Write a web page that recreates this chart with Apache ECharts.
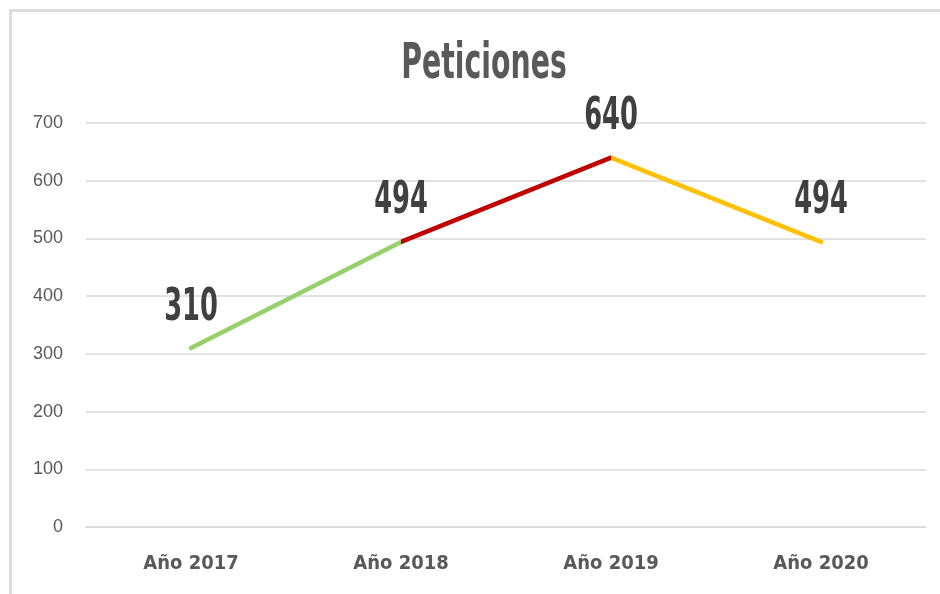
<!DOCTYPE html>
<html><head><meta charset="utf-8">
<script src="https://cdn.jsdelivr.net/npm/echarts@6/dist/echarts.min.js"></script>
<style>
html,body{margin:0;padding:0;background:#fff;}
#frame{position:absolute;left:9px;top:9px;width:931px;height:585px;border-top:3px solid #dcdcdc;border-left:3px solid #dcdcdc;box-sizing:border-box;}
#chart{position:absolute;left:0;top:0;width:940px;height:594px;}
</style></head>
<body>
<div id="frame"></div>
<div id="chart"></div>
<script>
const categories = ['Año 2017', 'Año 2018', 'Año 2019', 'Año 2020'];
const peticiones = [310, 494, 640, 494];
const yTicks = [0, 100, 200, 300, 400, 500, 600, 700];
const segmentColors = ['#95D06A', '#C00000', '#FFC000'];
const titleText = 'Peticiones';

const fam = '"DejaVu Sans"';
const chart = echarts.init(document.getElementById('chart'), null, {renderer: 'canvas'});
chart.setOption({
  animation: false,
  backgroundColor: 'transparent',
  grid: {left: 86, right: 14, top: 123, bottom: 67},
  xAxis: {
    type: 'category', data: categories, boundaryGap: true,
    axisLine: {show: true, lineStyle: {color: '#d9d9d9', width: 1.5}},
    axisTick: {show: false},
    axisLabel: {margin: 27, fontFamily: fam, fontStyle: 'condensed', fontWeight: 'bold', fontSize: 20, color: '#595959'}
  },
  yAxis: {
    type: 'value', min: yTicks[0], max: yTicks[yTicks.length - 1], interval: 100,
    axisLine: {show: false}, axisTick: {show: false},
    splitLine: {lineStyle: {color: '#d9d9d9', width: 1.5}},
    axisLabel: {margin: 23, fontFamily: '"Liberation Sans", Arial, sans-serif', fontSize: 18, color: '#595959'}
  },
  visualMap: {
    show: false, type: 'piecewise', dimension: 0, seriesIndex: 0,
    pieces: [
      {lte: 1, color: segmentColors[0]},
      {gt: 1, lte: 2, color: segmentColors[1]},
      {gt: 2, color: segmentColors[2]}
    ]
  },
  series: [{
    type: 'line', data: peticiones, symbol: 'none',
    lineStyle: {width: 4.5, cap: 'round'}
  }]
});

// Title and value labels as narrow (horizontally scaled) real text; label positions
// come from the chart's own scales via convertToPixel.
const graphics = [{
  type: 'text', x: 484, y: 65, scaleX: 0.63,
  style: {text: titleText, font: 'condensed bold 50px "DejaVu Sans"', fill: '#595959',
          align: 'center', verticalAlign: 'middle'}
}];
peticiones.forEach(function (v, i) {
  const p = chart.convertToPixel({seriesIndex: 0}, [i, v]);
  graphics.push({
    type: 'text', x: p[0], y: p[1] - 40, scaleX: 0.65,
    style: {text: String(v), font: 'condensed bold 44px "DejaVu Sans"', fill: '#404040',
            align: 'center', verticalAlign: 'middle'}
  });
});
chart.setOption({graphic: graphics});
</script>
</body></html>
